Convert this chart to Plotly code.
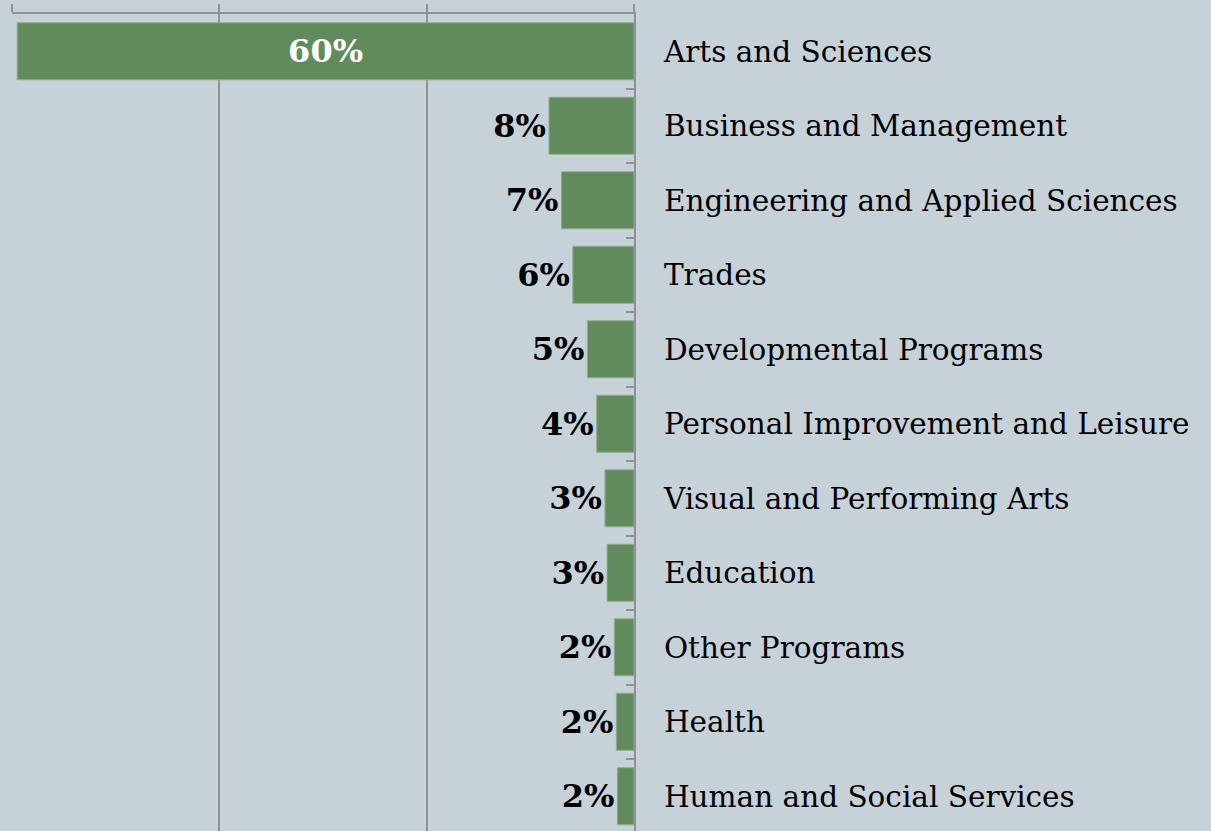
import plotly.graph_objects as go

categories = [
    "Arts and Sciences",
    "Business and Management",
    "Engineering and Applied Sciences",
    "Trades",
    "Developmental Programs",
    "Personal Improvement and Leisure",
    "Visual and Performing Arts",
    "Education",
    "Other Programs",
    "Health",
    "Human and Social Services",
]
values = [59.5, 8.2, 7.0, 5.9, 4.5, 3.6, 2.8, 2.6, 1.9, 1.7, 1.6]
labels = ["60%", "8%", "7%", "6%", "5%", "4%", "3%", "3%", "2%", "2%", "2%"]

BG = "#C6D1D8"
BAR = "#628B5D"
GRID = "#8E9296"
FONT = "Georgia, 'DejaVu Serif', serif"

text_pos = ["inside"] + ["outside"] * (len(values) - 1)
text_col = ["white"] + ["black"] * (len(values) - 1)

fig = go.Figure(
    go.Bar(
        x=values,
        y=categories,
        orientation="h",
        width=0.765,
        marker=dict(color=BAR, line=dict(color="#8FAE8B", width=1)),
        text=labels,
        textposition=text_pos,
        insidetextanchor="middle",
        textfont=dict(family=FONT, size=32, color=text_col, weight="bold"),
        constraintext="none",
        cliponaxis=False,
        hoverinfo="skip",
    )
)

fig.update_layout(
    width=1211,
    height=831,
    margin=dict(l=12, r=577, t=14, b=0),
    paper_bgcolor=BG,
    plot_bgcolor=BG,
    showlegend=False,
    uniformtext=dict(mode=False),
)

fig.update_xaxes(
    range=[60, 0],
    tickvals=[0, 20, 40, 60],
    side="top",
    showticklabels=False,
    ticks="outside",
    ticklen=8,
    tickcolor=GRID,
    tickwidth=1.5,
    showgrid=True,
    gridcolor=GRID,
    gridwidth=1.5,
    showline=True,
    linecolor=GRID,
    linewidth=2,
    zeroline=False,
)

fig.update_yaxes(
    range=[10.466, -0.5],
    side="right",
    ticks="inside",
    tickson="boundaries",
    ticklen=8,
    tickcolor=GRID,
    tickwidth=1.5,
    showline=True,
    linecolor=GRID,
    linewidth=2,
    showgrid=False,
    ticklabelstandoff=22,
    tickfont=dict(family=FONT, size=29.5, color="black"),
)

fig.write_html(
    "out.html",
    config={"displayModeBar": False},
    post_script="document.body.style.margin='0';document.body.style.overflow='hidden';",
)
